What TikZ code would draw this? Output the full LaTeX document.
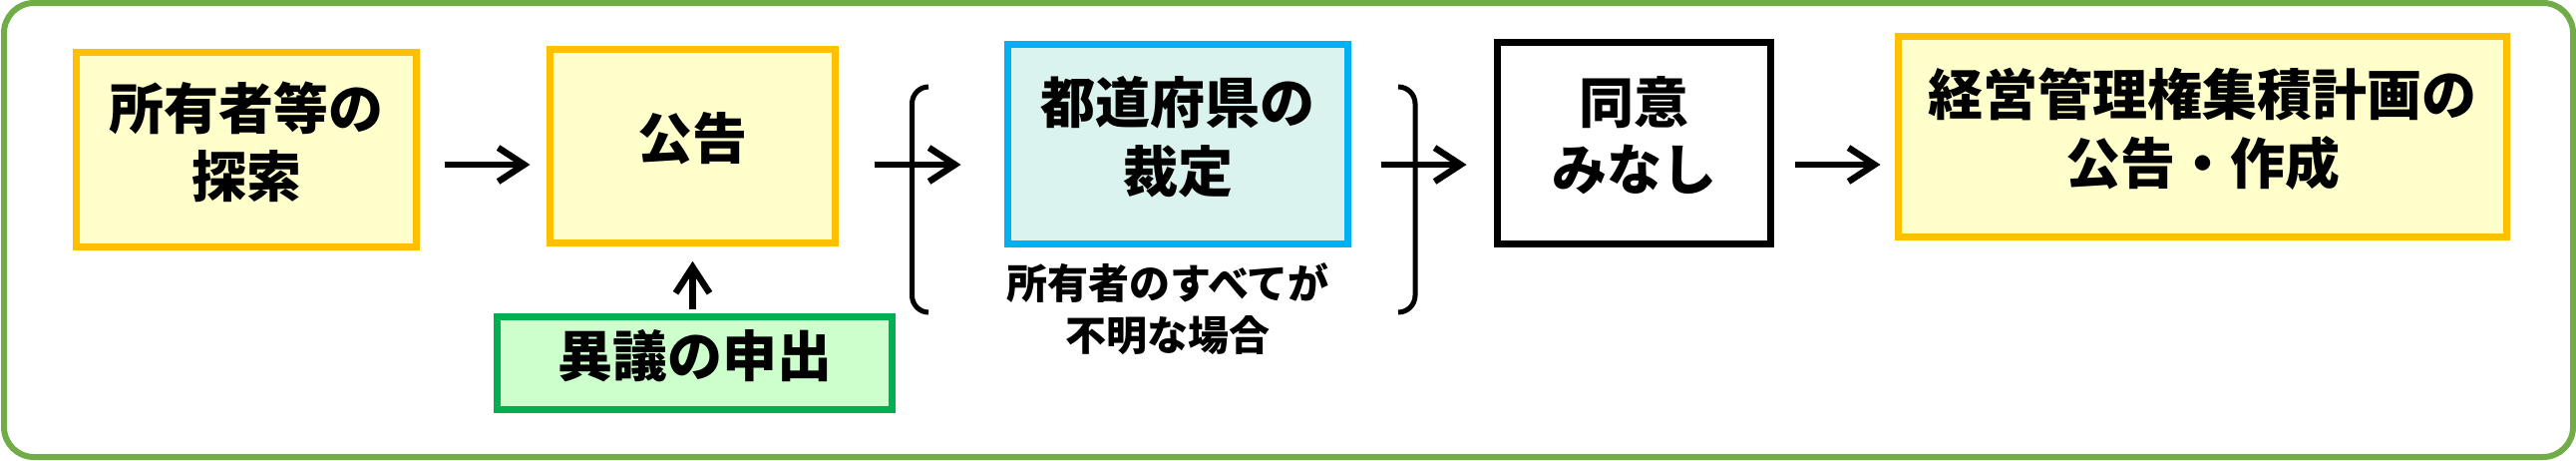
\documentclass[tikz,border=0pt]{standalone}
\usepackage{fontspec}
\setmainfont{Noto Sans CJK JP}
\usetikzlibrary{arrows.meta}
\definecolor{frameg}{HTML}{70AD47}
\definecolor{boxy}{HTML}{FFC000}
\definecolor{filly}{HTML}{FFFFCC}
\definecolor{boxb}{HTML}{00B0F0}
\definecolor{fillb}{HTML}{DAF3EE}
\definecolor{boxg}{HTML}{00B050}
\definecolor{fillg}{HTML}{CCFFCC}
\begin{document}
\begin{tikzpicture}[x=1pt,y=-1pt,
  box/.style={draw, line width=7pt, inner sep=0pt, align=center,
    font=\fontsize{55pt}{67pt}\selectfont\bfseries},
  ybox/.style={box, draw=boxy, fill=filly},
  arr/.style={line width=6.5pt, -{Straight Barb[length=26pt,width=34pt]}},
  brk/.style={line width=5pt}]
\fill[white] (0,0) rectangle (2583,461);
\useasboundingbox (0,0) rectangle (2583,461);
\draw[frameg, line width=6pt, rounded corners=30pt] (4,3) rectangle (2580,458);
% boxes
\node[ybox, minimum width=341pt, minimum height=195pt] (b1) at (247,150)
  {\strut 所有者等の\\\strut 探索};
\node[ybox, minimum width=286pt, minimum height=194pt] (b2) at (694.5,146.5)
  {\strut 公告};
\node[box, draw=boxg, fill=fillg, minimum width=396pt, minimum height=93pt] (b3) at (696.5,364)
  {\strut 異議の申出};
\node[box, draw=boxb, fill=fillb, minimum width=341pt, minimum height=200pt] (b4) at (1181,144.5)
  {\strut 都道府県の\\\strut 裁定};
\node[box, draw=black, fill=white, minimum width=274pt, minimum height=202pt] (b5) at (1638.5,143.5)
  {\strut 同意\\\strut みなし};
\node[ybox, minimum width=610pt, minimum height=201pt] (b6) at (2208.5,136.5)
  {\strut 経営管理権集積計画の\\\strut 公告・作成};
\node[inner sep=0pt, align=center, font=\fontsize{41pt}{52pt}\selectfont\bfseries] (cap) at (1171,314.6)
  {\strut 所有者のすべてが\\\strut 不明な場合};
% brackets
\draw[brk] (931,87) to[out=180,in=90] (914.5,104) -- (914.5,296) to[out=-90,in=180] (931,313);
\draw[brk] (1402,87) to[out=0,in=90] (1419,104) -- (1419,296) to[out=-90,in=0] (1402,313);
% arrows
\coordinate (ay) at (0,165);
\draw[arr, shorten <=24.5pt, shorten >=16.5pt] (b1.east |- ay) -- (b2.west |- ay);
\draw[arr, shorten <=35.5pt, shorten >=43.5pt] (b2.east |- ay) -- (b4.west |- ay);
\draw[arr, shorten <=29.5pt, shorten >=27.5pt] (b4.east |- ay) -- (b5.west |- ay);
\draw[arr, shorten <=20.5pt, shorten >=14.5pt] (b5.east |- ay) -- (b6.west |- ay);
\draw[arr, shorten <=4.5pt, shorten >=14.8pt] (b2.south |- b3.north) -- (b2.south);
\end{tikzpicture}
\end{document}
